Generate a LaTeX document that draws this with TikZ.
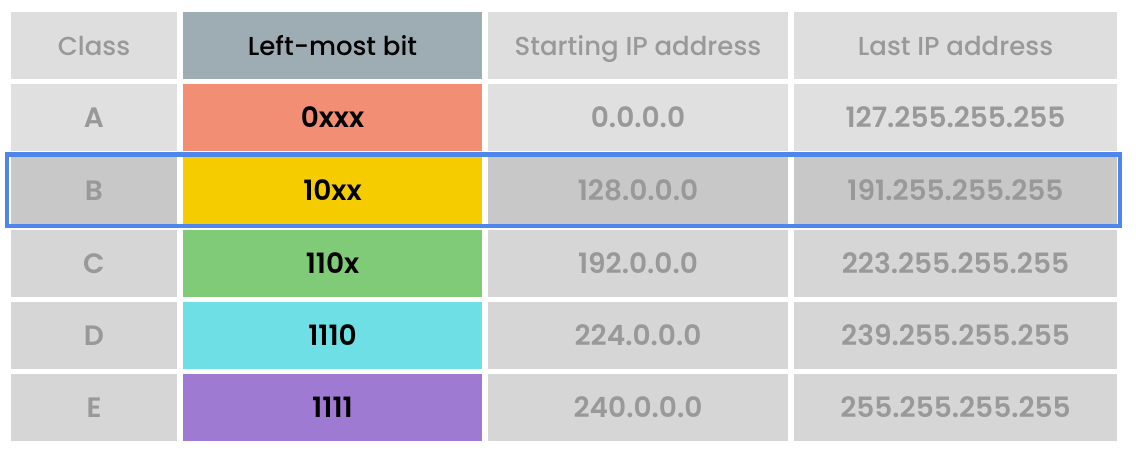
\documentclass[tikz,border=0pt]{standalone}
\usepackage{fontspec}
\setmainfont{Poppins}[BoldFont={Poppins SemiBold}]
\newfontfamily\hdrfont{Poppins Medium}
\definecolor{hdrgray}{HTML}{DEDEDE}
\definecolor{rowA}{HTML}{E0E0E0}
\definecolor{rowB}{HTML}{C8C8C8}
\definecolor{rowC}{HTML}{D6D6D6}
\definecolor{hdrbit}{HTML}{9EADB3}
\definecolor{txtgray}{HTML}{999999}
\definecolor{cA}{HTML}{F28E74}
\definecolor{cB}{HTML}{F5CC00}
\definecolor{cC}{HTML}{80CB78}
\definecolor{cD}{HTML}{6EE0E5}
\definecolor{cE}{HTML}{9E7AD3}
\definecolor{hlblue}{HTML}{4F86EC}
\begin{document}
\begin{tikzpicture}[x=1pt,y=-1pt,
  cell/.style={inner sep=0pt,minimum height=67pt,text height=20pt,text depth=0pt,text=txtgray,font=\fontsize{28}{32}\selectfont\bfseries},
  hdr/.style={cell,text height=19pt,font=\fontsize{26}{32}\selectfont\hdrfont},
  c1/.style={minimum width=166pt},
  c2/.style={minimum width=299pt},
  c3/.style={minimum width=300pt},
  c4/.style={minimum width=323pt},
  bit/.style={cell,c2,text=black}]
\useasboundingbox (0,0) rectangle (1136,456);
\fill[white] (0,0) rectangle (1136,456);
\node[hdr,c1,fill=hdrgray] (h1) at (94,45.5) {Class};
\node[hdr,c2,fill=hdrbit,text=black] (h2) at (332.5,45.5) {Left-most bit};
\node[hdr,c3,fill=hdrgray] (h3) at (638,45.5) {Starting IP address};
\node[hdr,c4,fill=hdrgray] (h4) at (955.5,45.5) {Last IP address};
% A
\node[cell,c1,fill=rowA] (a1) at (94,117.5) {A};
\node[bit,fill=cA] (a2) at (332.5,117.5) {0xxx};
\node[cell,c3,fill=rowA] (a3) at (638,117.5) {0.0.0.0};
\node[cell,c4,fill=rowA] (a4) at (955.5,117.5) {127.255.255.255};
% B
\node[cell,c1,fill=rowB] (b1) at (94,190.5) {B};
\node[bit,fill=cB] (b2) at (332.5,190.5) {10xx};
\node[cell,c3,fill=rowB] (b3) at (638,190.5) {128.0.0.0};
\node[cell,c4,fill=rowB] (b4) at (955.5,190.5) {191.255.255.255};
% C
\node[cell,c1,fill=rowC] (r1) at (94,263) {C};
\node[bit,fill=cC] (r2) at (332.5,263) {110x};
\node[cell,c3,fill=rowC] (r3) at (638,263) {192.0.0.0};
\node[cell,c4,fill=rowC] (r4) at (955.5,263) {223.255.255.255};
% D
\node[cell,c1,fill=rowC] (d1) at (94,335.5) {D};
\node[bit,fill=cD] (d2) at (332.5,335.5) {1110};
\node[cell,c3,fill=rowC] (d3) at (638,335.5) {224.0.0.0};
\node[cell,c4,fill=rowC] (d4) at (955.5,335.5) {239.255.255.255};
% E
\node[cell,c1,fill=rowC] (e1) at (94,407.5) {E};
\node[bit,fill=cE] (e2) at (332.5,407.5) {1111};
\node[cell,c3,fill=rowC] (e3) at (638,407.5) {240.0.0.0};
\node[cell,c4,fill=rowC] (e4) at (955.5,407.5) {255.255.255.255};
% highlight
\draw[hlblue,line width=4.5pt] (7,154.5) rectangle (1120,226);
\end{tikzpicture}
\end{document}
